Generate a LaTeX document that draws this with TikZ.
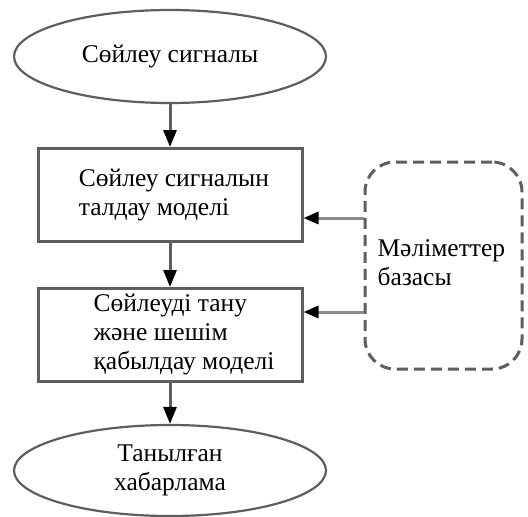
\documentclass[tikz,border=0pt]{standalone}
\usepackage{fontspec}
\setmainfont{Liberation Serif}
\usetikzlibrary{shapes.geometric,arrows.meta}
\definecolor{edge}{HTML}{5E5E5E}
\definecolor{feedc}{HTML}{8A8A8A}
\begin{document}
\begin{tikzpicture}[x=1pt,y=-1pt,
  every node/.style={font=\fontsize{25.5}{29}\selectfont, text=black},
  oval/.style={ellipse, draw=edge, line width=2.2pt, minimum width=312pt, minimum height=93pt, inner sep=0pt, align=center},
  procbox/.style={rectangle, draw=edge, line width=3pt, minimum width=264pt, minimum height=93pt, inner sep=0pt, align=left},
  dbbox/.style={rectangle, draw=edge, dashed, dash pattern=on 11pt off 6pt, line width=3pt, rounded corners=30pt, minimum width=157pt, minimum height=207pt, inner sep=0pt, align=left},
  flow/.style={draw=edge, line width=3pt, -{Triangle[length=17pt,width=13pt,fill=black,color=black]}},
  feed/.style={draw=feedc, line width=3pt, -{Triangle[length=15pt,width=12pt,fill=black,color=black]}}
]
\useasboundingbox (0,0) rectangle (528,517);
\node[oval] (top) at (170,56.5) {Сөйлеу сигналы};
\node[procbox] (b1) at (170,195) {\hspace*{8pt}Сөйлеу сигналын\\\hspace*{8pt}талдау моделі};
\node[procbox] (b2) at (170,335) {\hspace*{28pt}Сөйлеуді тану\\\hspace*{28pt}және шешім\\\hspace*{28pt}қабылдау моделі};
\node[oval, minimum height=91pt] (bot) at (170,470.5) {Танылған\\хабарлама};
\node[dbbox] (db) at (443.5,265.5) {};
\node[anchor=west, align=left] (dbt) at (374,263) {Мәліметтер\\базасы};
\draw[flow] (top.south) -- (b1.north);
\draw[flow] (b1.south) -- (b2.north);
\draw[flow] (b2.south) -- (bot.north);
\coordinate (f1) at (db.west |- 0,218);
\coordinate (f2) at (db.west |- 0,312);
\draw[feed] (f1) -- (f1 -| b1.east);
\draw[feed] (f2) -- (f2 -| b2.east);
\end{tikzpicture}
\end{document}
